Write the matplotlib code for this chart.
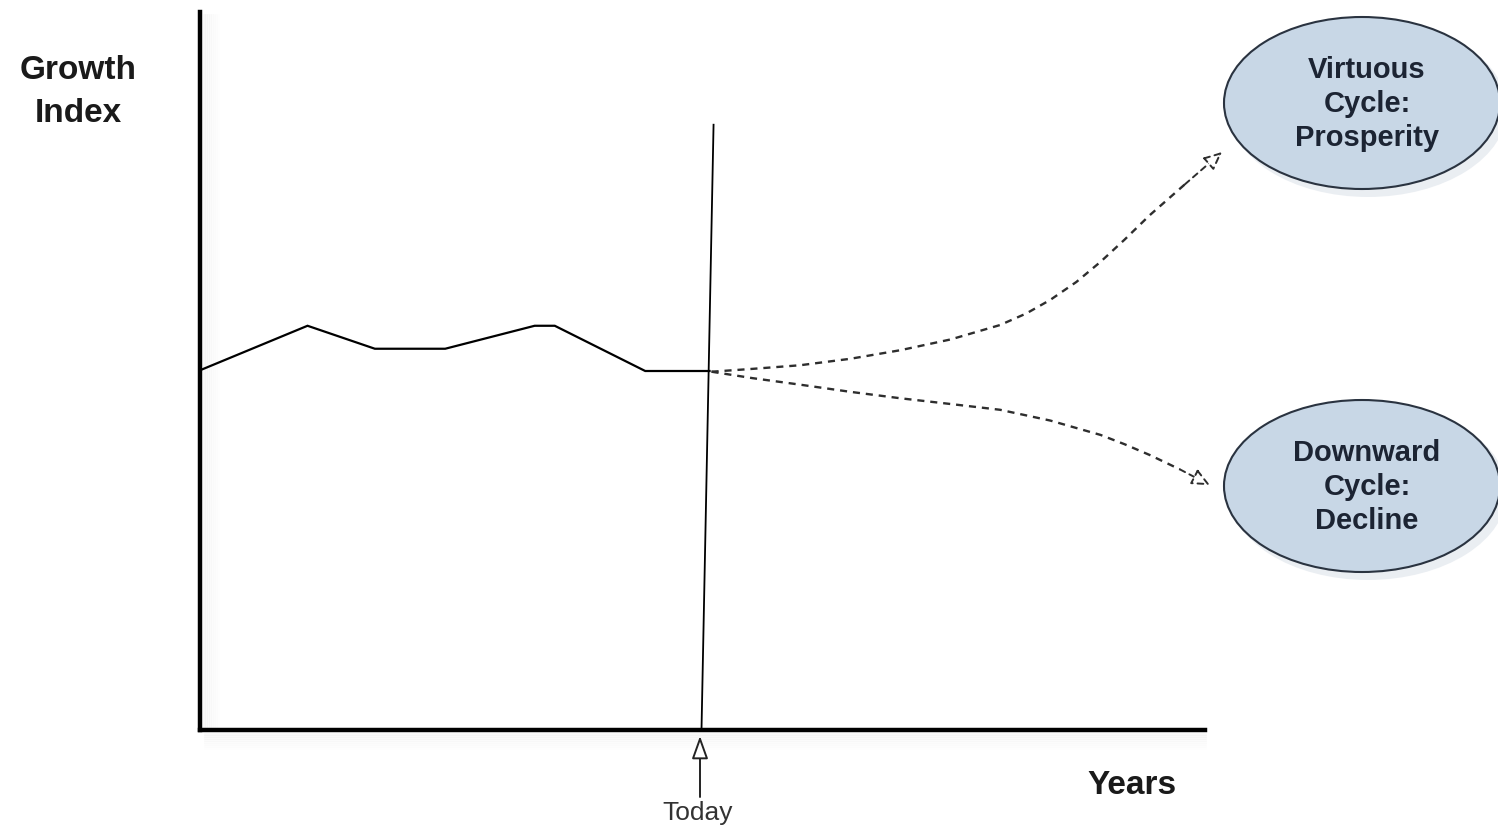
import numpy as np
import matplotlib.pyplot as plt
from matplotlib.patches import Ellipse, FancyArrowPatch

plt.rcParams['font.family'] = ['Liberation Sans', 'DejaVu Sans']

# history of the growth index (chart units: x 0-100, y 0-100)
years = [0, 10.7, 17.4, 24.4, 33.3, 35.3, 44.3, 50.7]
growth = [50.1, 56.3, 53.1, 53.1, 56.3, 56.3, 50.0, 50.0]

# projected paths from today
up_x = [50.9, 55.0, 59.7, 64.7, 69.7, 74.7, 79.6, 82.2, 84.6, 87.2, 89.6, 92.0, 94.5, 98.0, 101.7]
up_y = [49.9, 50.3, 50.8, 51.7, 52.9, 54.4, 56.4, 58.0, 59.9, 62.4, 65.2, 68.3, 71.7, 76.0, 80.5]
down_x = [50.9, 55.0, 59.7, 64.7, 69.7, 74.7, 79.6, 84.6, 89.6, 92.0, 94.5, 97.5, 100.5]
down_y = [49.9, 49.0, 48.1, 47.1, 46.2, 45.4, 44.6, 43.1, 41.1, 39.8, 38.3, 36.3, 34.1]

today_x = [51.1, 49.9]
today_y = [84.3, 0]

W, H = 1498, 835
fig = plt.figure(figsize=(W / 100, H / 100), dpi=100)

# overlay for labels and bubbles, pixel coordinates
ov = fig.add_axes([0, 0, 1, 1])
ov.set_xlim(0, W)
ov.set_ylim(H, 0)
ov.axis('off')

# soft shadow along the axes
for k in range(1, 9):
    a = 0.05 * (9 - k) / 8
    ov.plot([205, 1205], [732 + k * 2, 732 + k * 2], color='gray', lw=2, alpha=a)
    ov.plot([202 + k * 2, 202 + k * 2], [15, 728], color='gray', lw=2, alpha=a)

ax = fig.add_axes([200 / W, (H - 730) / H, 1005 / W, 718 / H])
ax.set_xlim(0, 100)
ax.set_ylim(0, 100)
ax.patch.set_alpha(0)
for s in ['top', 'right']:
    ax.spines[s].set_visible(False)
for s in ['left', 'bottom']:
    ax.spines[s].set_linewidth(3.2)
    ax.spines[s].set_color('black')
ax.set_xticks([])
ax.set_yticks([])

ax.plot(years, growth, color='black', lw=1.6, solid_joinstyle='miter')
ax.plot(today_x, today_y, color='black', lw=1.3)

dash_col = '#2e2e2e'
ax.plot(up_x[:-1], up_y[:-1], color=dash_col, lw=1.7, ls=(0, (3, 2.5)), clip_on=False)
ax.plot(down_x[:-1], down_y[:-1], color=dash_col, lw=1.7, ls=(0, (3, 2.5)), clip_on=False)
for xs, ys in [(up_x, up_y), (down_x, down_y)]:
    ar = FancyArrowPatch((xs[-2], ys[-2]), (xs[-1], ys[-1]),
                         arrowstyle='-|>,head_length=11,head_width=5',
                         color=dash_col, lw=1.4, ls=(0, (3, 2.5)), fc='white',
                         clip_on=False, shrinkA=0, shrinkB=0)
    ax.add_patch(ar)

# today marker
ov.add_patch(FancyArrowPatch((700, 797), (700, 736),
                             arrowstyle='-|>,head_length=14,head_width=5',
                             color='#222222', lw=1.4, fc='white',
                             shrinkA=0, shrinkB=0))
ov.text(698, 813, 'Today', ha='center', va='center', fontsize=19, color='#333333')

ov.text(78, 92, 'Growth\nIndex', ha='center', va='center', fontsize=24,
        fontweight='bold', color='#1a1a1a', linespacing=1.5)
ov.text(1132, 785, 'Years', ha='center', va='center', fontsize=24,
        fontweight='bold', color='#1a1a1a')

bubbles = [((1362, 103), 'Virtuous\nCycle:\nProsperity'),
           ((1362, 486), 'Downward\nCycle:\nDecline')]
for (cx, cy), label in bubbles:
    ov.add_patch(Ellipse((cx + 6, cy + 6), 278, 176, fc='#dde3ea', ec='none', alpha=0.6))
    ov.add_patch(Ellipse((cx, cy), 276, 172, fc='#c8d7e6', ec='#2a3340', lw=1.5))
    ov.text(cx + 5, cy + 1, label, ha='center', va='center', fontsize=21,
            fontweight='bold', color='#1c2433', linespacing=1.28)

fig.savefig('out.png', dpi=100)
